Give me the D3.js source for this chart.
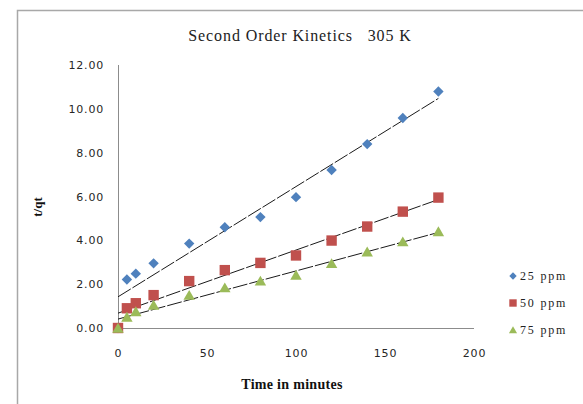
<!DOCTYPE html>
<html>
<head>
<meta charset="utf-8">
<script src="https://cdn.jsdelivr.net/npm/d3@7"></script>
<style>
  body { margin: 0; background: #fff; }
  svg { display: block; }
</style>
</head>
<body>
<svg id="chart" width="583" height="404"></svg>
<script>
// data (t/qt vs time)
var timeMin = [0, 5, 10, 20, 40, 60, 80, 100, 120, 140, 160, 180]
var ppm25 = [0, 2.21, 2.48, 2.95, 3.85, 4.60, 5.06, 5.97, 7.21, 8.39, 9.58, 10.79]
var ppm50 = [0, 0.90, 1.13, 1.50, 2.14, 2.64, 2.97, 3.31, 3.99, 4.63, 5.31, 5.95]
var ppm75 = [0, 0.50, 0.75, 1.05, 1.50, 1.84, 2.15, 2.42, 2.95, 3.48, 3.94, 4.40]
var seriesNames = ["25 ppm", "50 ppm", "75 ppm"]
var xTicks = [0, 50, 100, 150, 200]
var yTicks = [0, 2, 4, 6, 8, 10, 12]

var series = [
    { name: seriesNames[0], values: ppm25, color: "#4F81BD", shape: "diamond" },
    { name: seriesNames[1], values: ppm50, color: "#C0504D", shape: "square" },
    { name: seriesNames[2], values: ppm75, color: "#9BBB59", shape: "triangle" }
]

var svg = d3.select("#chart")

// outer chart frame (only top + left edges are visible in the crop)
svg.append("path")
    .attr("d", "M17.5,404 L17.5,10.5 L583,10.5")
    .attr("fill", "none")
    .attr("stroke", "#a8a8a8")
    .attr("stroke-width", 1.5)

var x = d3.scaleLinear().domain([0, 200]).range([118, 474])
var y = d3.scaleLinear().domain([0, 12]).range([328, 65])

// axes
var xAxis = svg.append("g")
    .attr("transform", "translate(0," + y(0) + ")")
    .call(d3.axisBottom(x).tickValues(xTicks).tickSize(0).tickPadding(21).tickFormat(d3.format("d")))
var yAxis = svg.append("g")
    .attr("transform", "translate(" + x(0) + ",0)")
    .call(d3.axisLeft(y).tickValues(yTicks).tickSize(0).tickPadding(14).tickFormat(d3.format(".2f")))

svg.selectAll(".domain").attr("stroke", "#8c8c8c").attr("stroke-width", 1)
yAxis.select(".domain").attr("d", "M0.5," + y(12) + "V" + y(0))
xAxis.select(".domain").attr("d", "M" + x(0) + ",0.5H" + x(200))

svg.selectAll(".tick text")
    .style("font-family", "'DejaVu Sans', Verdana, sans-serif")
    .style("font-size", "11px")
    .style("letter-spacing", "0.8px")
    .attr("fill", "#262626")

// least-squares trendline
function linFit(xs, ys) {
    var mx = d3.mean(xs), my = d3.mean(ys)
    var sxy = d3.sum(xs, (v, i) => (v - mx) * (ys[i] - my))
    var sxx = d3.sum(xs, v => (v - mx) * (v - mx))
    var slope = sxy / sxx
    return { slope: slope, intercept: my - slope * mx }
}

var line = d3.line().x(d => x(d[0])).y(d => y(d[1]))

series.forEach(s => {
    var fit = linFit(timeMin, s.values)
    var ends = d3.extent(timeMin)
    svg.append("path")
        .datum(ends.map(t => [t, fit.intercept + fit.slope * t]))
        .attr("d", line)
        .attr("fill", "none")
        .attr("stroke", "#1a1a1a")
        .attr("stroke-width", 1)
        .attr("stroke-dasharray", "15,2")
})

function markerPath(shape, r) {
    if (shape == "diamond") return "M0," + (-r) + "L" + r + ",0L0," + r + "L" + (-r) + ",0Z"
    if (shape == "square") return "M" + (-r) + "," + (-r) + "H" + r + "V" + r + "H" + (-r) + "Z"
    return "M0," + (-r) + "L" + (r * 1.1) + "," + (r * 0.9) + "L" + (-r * 1.1) + "," + (r * 0.9) + "Z"
}

// markers
series.forEach(s => {
    svg.append("g")
        .selectAll("path")
        .data(s.values)
        .join("path")
        .attr("transform", (d, i) => "translate(" + x(timeMin[i]) + "," + y(d) + ")")
        .attr("d", markerPath(s.shape, 5.2))
        .attr("fill", s.color)
})

// title
svg.append("text")
    .attr("x", 300)
    .attr("y", 41)
    .attr("text-anchor", "middle")
    .style("white-space", "pre")
    .style("font-family", "'Liberation Serif', 'Times New Roman', serif")
    .style("font-size", "16px")
    .style("letter-spacing", "0.9px")
    .attr("fill", "#222")
    .text("Second Order Kinetics   305 K")

// axis titles
svg.append("text")
    .attr("x", 292)
    .attr("y", 389)
    .attr("text-anchor", "middle")
    .style("font-family", "'Liberation Serif', 'Times New Roman', serif")
    .style("font-size", "14px")
    .style("font-weight", "bold")
    .style("letter-spacing", "0.3px")
    .attr("fill", "#111")
    .text("Time in minutes")

svg.append("text")
    .attr("transform", "translate(42,207) rotate(-90)")
    .attr("text-anchor", "middle")
    .style("font-family", "'Liberation Serif', 'Times New Roman', serif")
    .style("font-size", "13px")
    .style("font-weight", "bold")
    .attr("fill", "#111")
    .text("t/qt")

// legend
var legend = svg.append("g")
    .selectAll("g")
    .data(series)
    .join("g")
    .attr("transform", (d, i) => "translate(513," + (276 + i * 27) + ")")

legend.append("path")
    .attr("d", d => markerPath(d.shape, 3.7))
    .attr("fill", d => d.color)

legend.append("text")
    .attr("x", 7)
    .attr("y", 4)
    .style("font-family", "'Liberation Serif', 'Times New Roman', serif")
    .style("font-size", "12px")
    .style("letter-spacing", "1.8px")
    .attr("fill", "#222")
    .text(d => d.name)
</script>
</body>
</html>
